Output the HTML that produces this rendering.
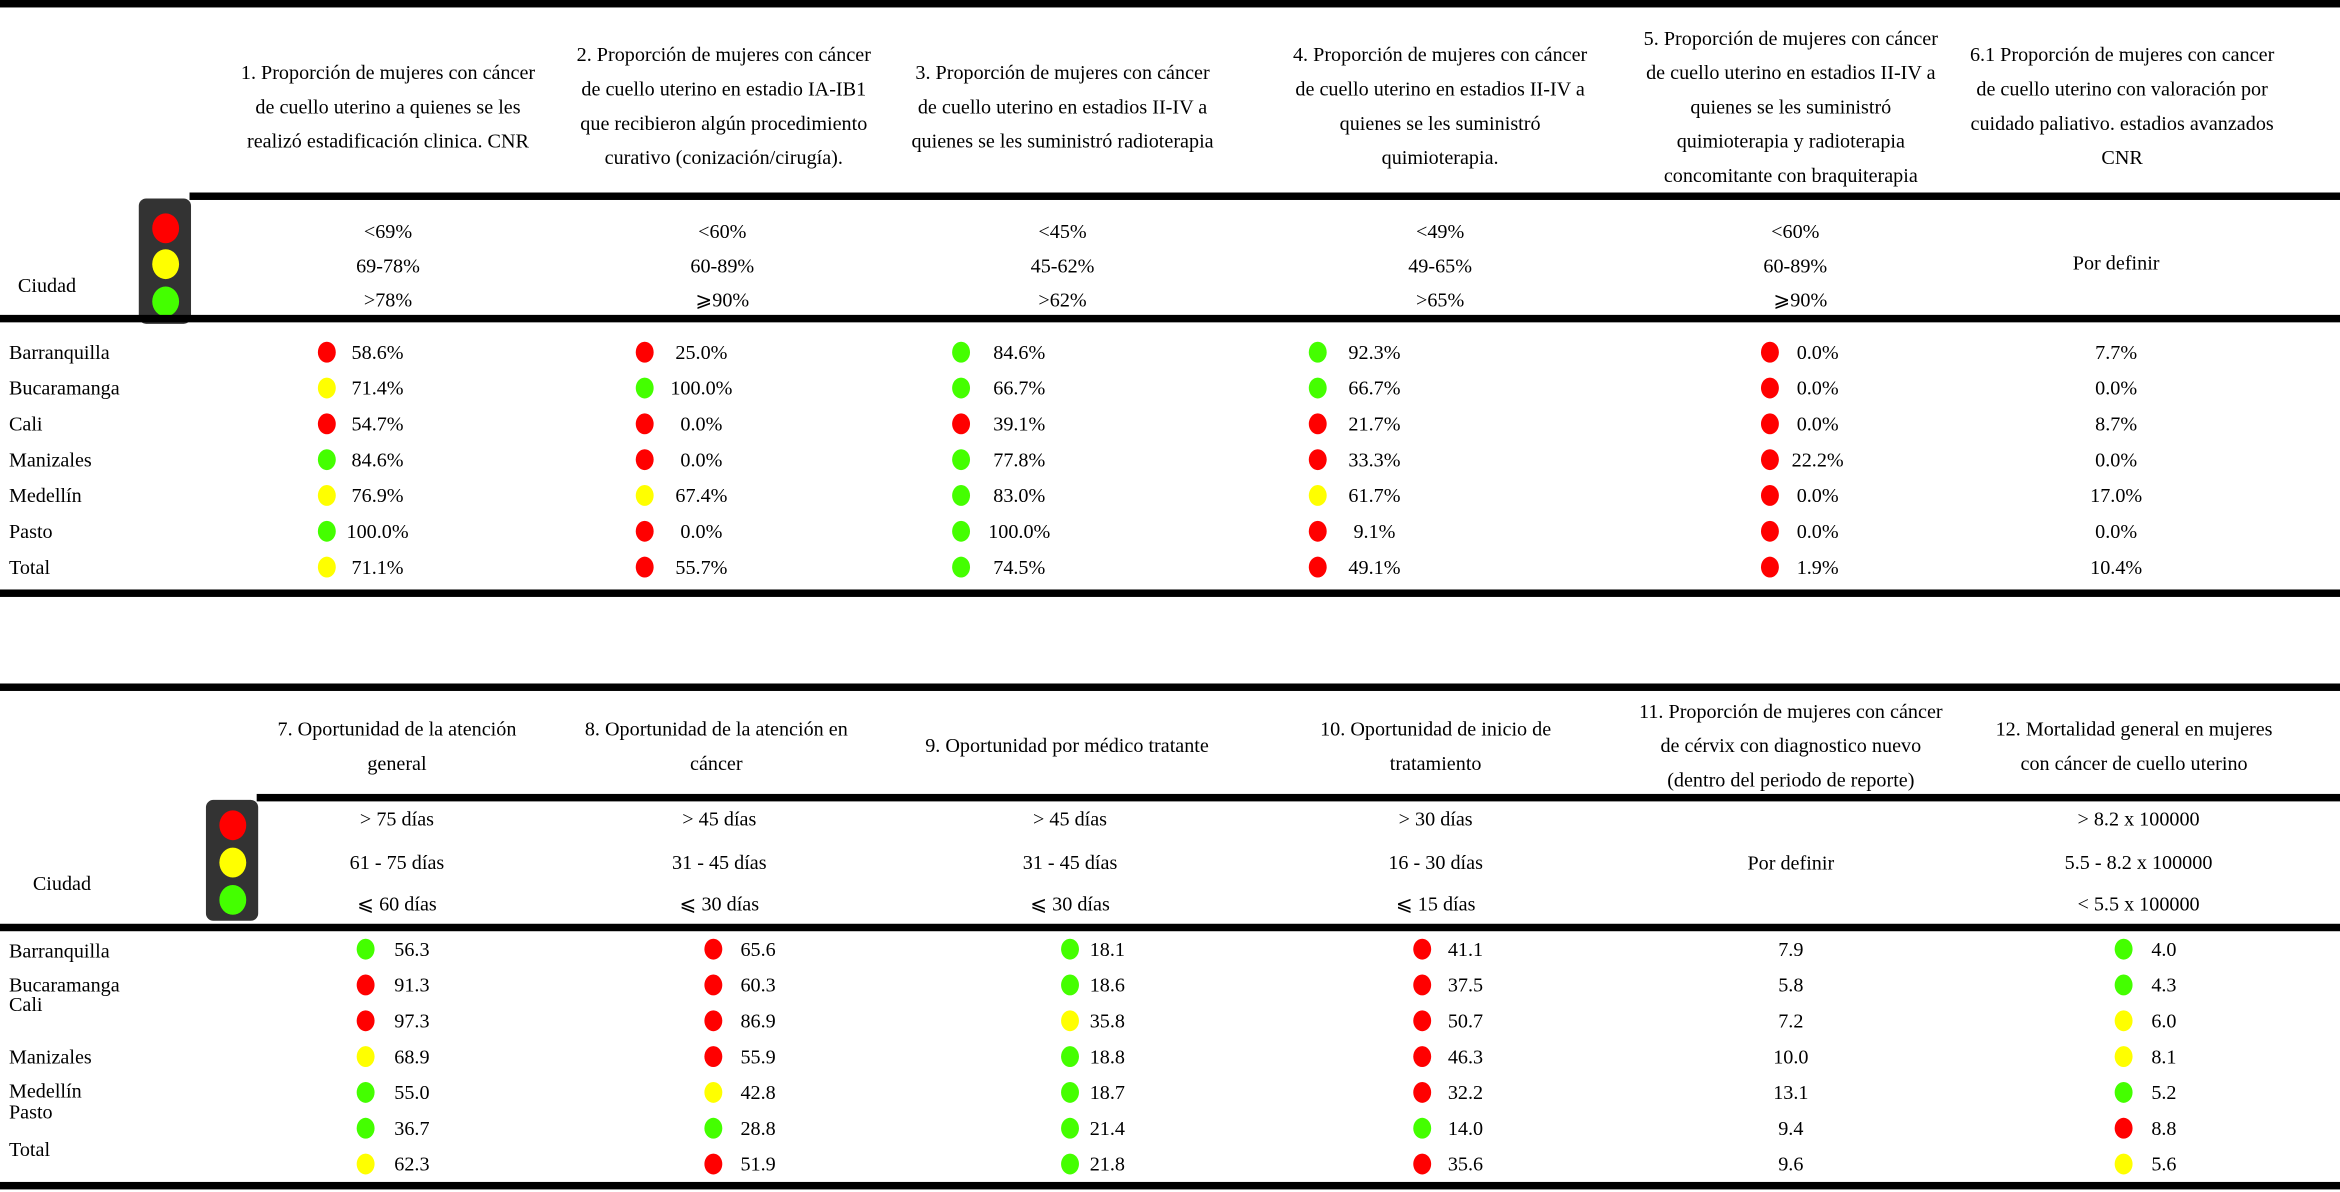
<!DOCTYPE html>
<html><head><meta charset="utf-8">
<style>
html,body{margin:0;padding:0;background:#fff;width:2340px;height:1192px;overflow:hidden}
#w{position:absolute;left:0;top:0;width:1568px;height:799px;transform:scale(1.49235);transform-origin:0 0;font-family:"Liberation Serif",serif;font-size:13.5px;color:#000}
.b{position:absolute;background:#000;height:5px}
.t{position:absolute;white-space:nowrap;line-height:23px}
.c{transform:translateX(-50%);text-align:center}
.m{transform:translate(-50%,-50%);text-align:center}
.l{transform:translateY(-50%)}
.light{position:absolute;background:#333;border-radius:5px;width:35px}
.lamp{position:absolute;width:18px;height:20px;border-radius:50%;left:8.5px}
.dot{position:absolute;width:12px;height:14px;border-radius:50%;transform:translate(-50%,-50%)}
</style></head><body>
<div id="w">
<!-- TABLE 1 -->
<div class="b" style="left:0;top:0;width:1568px"></div>
<div class="t c" style="left:260px;top:37px">1. Proporción de mujeres con cáncer<br>de cuello uterino a quienes se les<br>realizó estadificación clinica. CNR</div>
<div class="t c" style="left:485px;top:25px">2. Proporción de mujeres con cáncer<br>de cuello uterino en estadio IA-IB1<br>que recibieron algún procedimiento<br>curativo (conización/cirugía).</div>
<div class="t c" style="left:712px;top:37px">3. Proporción de mujeres con cáncer<br>de cuello uterino en estadios II-IV a<br>quienes se les suministró radioterapia</div>
<div class="t c" style="left:965px;top:25px">4. Proporción de mujeres con cáncer<br>de cuello uterino en estadios II-IV a<br>quienes se les suministró<br>quimioterapia.</div>
<div class="t c" style="left:1200px;top:14px">5. Proporción de mujeres con cáncer<br>de cuello uterino en estadios II-IV a<br>quienes se les suministró<br>quimioterapia y radioterapia<br>concomitante con braquiterapia</div>
<div class="t c" style="left:1422px;top:25px">6.1 Proporción de mujeres con cancer<br>de cuello uterino con valoración por<br>cuidado paliativo. estadios avanzados<br>CNR</div>
<div class="b" style="left:127px;top:129px;width:1441px"></div>
<div class="light" style="left:93px;top:133px;height:84px">
<div class="lamp" style="top:10px;background:#ff0000"></div><div class="lamp" style="top:34px;background:#ffff00"></div><div class="lamp" style="top:59px;background:#44ff00"></div></div>
<div class="t l" style="left:12px;top:191px">Ciudad</div>
<div class="t m" style="left:260px;top:178px">&lt;69%<br>69-78%<br>&gt;78%</div>
<div class="t m" style="left:484px;top:178px">&lt;60%<br>60-89%<br>⩾90%</div>
<div class="t m" style="left:712px;top:178px">&lt;45%<br>45-62%<br>&gt;62%</div>
<div class="t m" style="left:965px;top:178px">&lt;49%<br>49-65%<br>&gt;65%</div>
<div class="t m" style="left:1203px;top:178px">&lt;60%<br>60-89%<br>&nbsp;&nbsp;⩾90%</div>
<div class="t m" style="left:1418px;top:176px">Por definir</div>
<div class="b" style="left:0;top:211px;width:1568px"></div>
<div class="b" style="left:0;top:395px;width:1568px"></div>
<!-- TABLE 2 -->
<div class="b" style="left:0;top:458px;width:1568px"></div>
<div class="t c" style="left:266px;top:477px">7. Oportunidad de la atención<br>general</div>
<div class="t c" style="left:480px;top:477px">8. Oportunidad de la atención en<br>cáncer</div>
<div class="t c" style="left:715px;top:488px">9. Oportunidad por médico tratante</div>
<div class="t c" style="left:962px;top:477px">10. Oportunidad de inicio de<br>tratamiento</div>
<div class="t c" style="left:1200px;top:465px">11. Proporción de mujeres con cáncer<br>de cérvix con diagnostico nuevo<br>(dentro del periodo de reporte)</div>
<div class="t c" style="left:1430px;top:477px">12. Mortalidad general en mujeres<br>con cáncer de cuello uterino</div>
<div class="b" style="left:172px;top:532px;width:1396px"></div>
<div class="light" style="left:138px;top:536px;height:81px">
<div class="lamp" style="top:7px;background:#ff0000"></div><div class="lamp" style="top:32px;background:#ffff00"></div><div class="lamp" style="top:57px;background:#44ff00"></div></div>
<div class="t l" style="left:22px;top:592px">Ciudad</div>
<div class="t m" style="left:266px;top:578px;line-height:28.5px">&gt; 75 días<br>61 - 75 días<br>⩽ 60 días</div>
<div class="t m" style="left:482px;top:578px;line-height:28.5px">&gt; 45 días<br>31 - 45 días<br>⩽ 30 días</div>
<div class="t m" style="left:717px;top:578px;line-height:28.5px">&gt; 45 días<br>31 - 45 días<br>⩽ 30 días</div>
<div class="t m" style="left:962px;top:578px;line-height:28.5px">&gt; 30 días<br>16 - 30 días<br>⩽ 15 días</div>
<div class="t m" style="left:1200px;top:578px">Por definir</div>
<div class="t m" style="left:1433px;top:578px;line-height:28.5px">&gt; 8.2 x 100000<br>5.5 - 8.2 x 100000<br>&lt; 5.5 x 100000</div>
<div class="b" style="left:0;top:619px;width:1568px"></div>
<div class="b" style="left:0;top:792px;width:1568px"></div>
</div>
<script>
var cities = ["Barranquilla","Bucaramanga","Cali","Manizales","Medellín","Pasto","Total"];
var t1Values = [
 ["58.6%","71.4%","54.7%","84.6%","76.9%","100.0%","71.1%"],
 ["25.0%","100.0%","0.0%","0.0%","67.4%","0.0%","55.7%"],
 ["84.6%","66.7%","39.1%","77.8%","83.0%","100.0%","74.5%"],
 ["92.3%","66.7%","21.7%","33.3%","61.7%","9.1%","49.1%"],
 ["0.0%","0.0%","0.0%","22.2%","0.0%","0.0%","1.9%"],
 ["7.7%","0.0%","8.7%","0.0%","17.0%","0.0%","10.4%"]
];
var t1Colors = [
 ["r","y","r","g","y","g","y"],
 ["r","g","r","r","y","r","r"],
 ["g","g","r","g","g","g","g"],
 ["g","g","r","r","y","r","r"],
 ["r","r","r","r","r","r","r"],
 null
];
var t2Values = [
 ["56.3","91.3","97.3","68.9","55.0","36.7","62.3"],
 ["65.6","60.3","86.9","55.9","42.8","28.8","51.9"],
 ["18.1","18.6","35.8","18.8","18.7","21.4","21.8"],
 ["41.1","37.5","50.7","46.3","32.2","14.0","35.6"],
 ["7.9","5.8","7.2","10.0","13.1","9.4","9.6"],
 ["4.0","4.3","6.0","8.1","5.2","8.8","5.6"]
];
var t2Colors = [
 ["g","r","r","y","g","g","y"],
 ["r","r","r","r","y","g","r"],
 ["g","g","y","g","g","g","g"],
 ["r","r","r","r","r","g","r"],
 null,
 ["g","g","y","y","g","r","y"]
];
var colorMap = {r:"#ff0000", y:"#ffff00", g:"#44ff00"};
var W = document.getElementById('w');
function rowY1(i){ return 236 + i*24; }
function rowY2(i){ return 636 + i*24; }
var t1DotX = [219,432,644,883,1186,null];
var t1ValX = [253,470,683,921,1218,1418];
var t2DotX = [245,478,717,953,null,1423];
var t2ValX = [276,508,742,982,1200,1450];
var t2CityY = [637,660,673,708,731,745,770];
function addText(txt,x,y,name,cls){
  var d=document.createElement('div');
  d.className='t '+cls; d.style.left=x+'px'; d.style.top=y+'px'; d.textContent=txt;
  
  
  W.appendChild(d);
}
function addDot(c,x,y,name){
  var d=document.createElement('div');
  d.className='dot'; d.style.left=x+'px'; d.style.top=y+'px'; d.style.background=colorMap[c];
  
  
  W.appendChild(d);
}
cities.forEach(function(c,i){
  addText(c,6,rowY1(i),'city-'+i+'-t1','l');
  addText(c,6,t2CityY[i],'city-'+i+'-t2','l');
});
t1Values.forEach(function(col,j){
  col.forEach(function(v,i){
    addText(v,t1ValX[j],rowY1(i),'value-ind'+(j+1)+'-'+i,'m');
    if(t1Colors[j]) addDot(t1Colors[j][i],t1DotX[j],rowY1(i),'dot-ind'+(j+1)+'-'+i);
  });
});
t2Values.forEach(function(col,j){
  col.forEach(function(v,i){
    addText(v,t2ValX[j],rowY2(i),'value-ind'+(j+7)+'-'+i,'m');
    if(t2Colors[j]) addDot(t2Colors[j][i],t2DotX[j],rowY2(i),'dot-ind'+(j+7)+'-'+i);
  });
});
</script>
</body></html>
